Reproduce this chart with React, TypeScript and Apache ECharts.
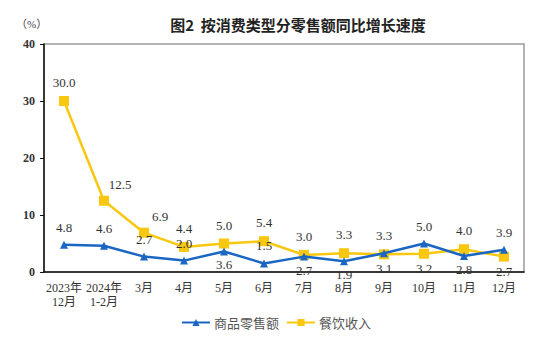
import React, { useEffect, useRef } from "react";
import * as echarts from "echarts";

const categories = ["2023年\n12月", "2024年\n1-2月", "3月", "4月", "5月", "6月", "7月", "8月", "9月", "10月", "11月", "12月"];
const goodsRetail = [4.8, 4.6, 2.7, 2.0, 3.6, 1.5, 2.7, 1.9, 3.3, 5.0, 2.8, 3.9];
const goodsLabelPos = ["top", "top", "top", "top", "bottom", "top", "bottom", "bottom", "top", "top", "bottom", "top"];
const catering = [30.0, 12.5, 6.9, 4.4, 5.0, 5.4, 3.0, 3.3, 3.1, 3.2, 4.0, 2.7];
const cateringLabelPos = ["top", "right", "right", "top", "top", "top", "top", "top", "bottom", "bottom", "top", "bottom"];

const FONT = "'Liberation Serif', 'Noto Sans CJK SC', serif";
const BLUE = "#1a66c2";
const YELLOW = "#f9c80e";

export default function App() {
  const ref = useRef<HTMLDivElement>(null);
  useEffect(() => {
    const chart = echarts.init(ref.current!, null, { renderer: "svg" });
    const mkData = (vals: number[], pos: string[]) =>
      vals.map((v, i) => ({
        value: v,
        label: {
          position: pos[i] === "right" ? "top" : pos[i],
          offset: pos[i] === "right" ? [16, 2] : [0, 0],
          distance: pos[i] === "bottom" ? 3 : 7,
        },
      }));
    chart.setOption({
      animation: false,
      textStyle: { fontFamily: FONT },
      title: {
        text: "图2  按消费类型分零售额同比增长速度",
        left: 293,
        top: 12,
        textAlign: "center",
        textStyle: { fontFamily: "'Noto Sans CJK SC', sans-serif", fontSize: 15, fontWeight: "bold", color: "#222" },
      },
      graphic: [
        { type: "text", left: 16, top: 18, style: { text: "（%）", fontSize: 11, fill: "#444", fontFamily: FONT } },
      ],
      grid: { left: 44, right: 30, top: 44, bottom: 66, show: true, borderColor: "#999", borderWidth: 1.5 },
      legend: {
        top: 311,
        left: 176,
        itemGap: 7,
        itemWidth: 28,
        itemHeight: 9,
        textStyle: { fontFamily: "'Noto Sans CJK SC', sans-serif", fontSize: 13, color: "#555", padding: [0, 0, 0, -1] },
        data: ["商品零售额", "餐饮收入"],
      },
      xAxis: {
        type: "category",
        data: categories,
        boundaryGap: true,
        axisLine: { lineStyle: { color: "#111", width: 1.5 } },
        axisTick: { inside: true, length: 5, lineStyle: { color: "#111" } },
        axisLabel: { color: "#333", fontSize: 12, fontFamily: FONT, lineHeight: 14, margin: 9, interval: 0 },
      },
      yAxis: {
        type: "value",
        min: 0,
        max: 40,
        interval: 10,
        axisLine: { show: true, lineStyle: { color: "#111", width: 1.5 } },
        axisTick: { show: true, length: 4, lineStyle: { color: "#111" } },
        splitLine: { show: false },
        axisLabel: { color: "#333", fontSize: 12, fontFamily: FONT, fontWeight: "bold", margin: 9 },
      },
      series: [
        {
          name: "商品零售额",
          type: "line",
          data: mkData(goodsRetail, goodsLabelPos),
          symbol: "triangle",
          symbolSize: 8,
          itemStyle: { color: BLUE },
          lineStyle: { color: BLUE, width: 2.5 },
          label: { show: true, fontSize: 13, color: "#333", fontFamily: FONT, formatter: (p: any) => Number(p.value).toFixed(1) },
          z: 3,
        },
        {
          name: "餐饮收入",
          type: "line",
          data: mkData(catering, cateringLabelPos),
          symbol: "rect",
          symbolSize: 10,
          itemStyle: { color: YELLOW },
          lineStyle: { color: YELLOW, width: 2.5 },
          label: { show: true, fontSize: 13, color: "#333", fontFamily: FONT, formatter: (p: any) => Number(p.value).toFixed(1) },
          z: 2,
        },
      ],
    });
    return () => chart.dispose();
  }, []);
  return <div ref={ref} style={{ position: "absolute", left: 0, top: 0, width: 554, height: 338 }} />;
}
